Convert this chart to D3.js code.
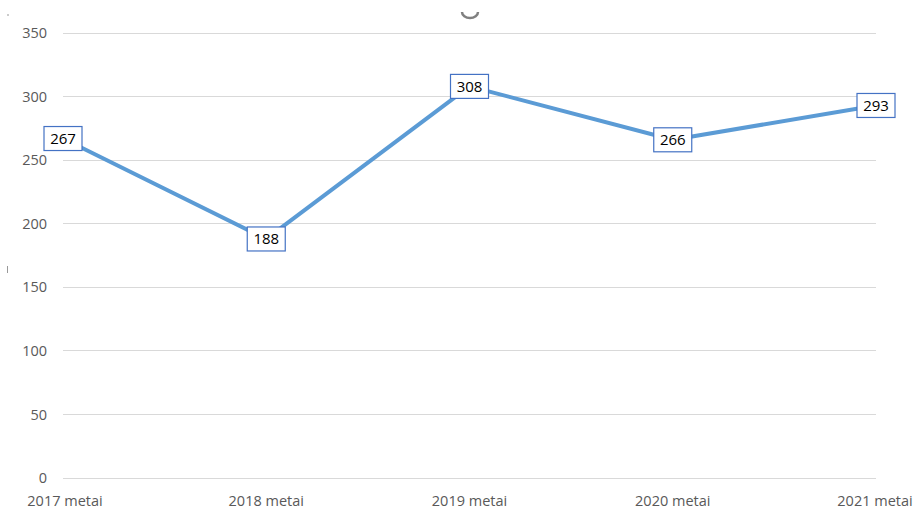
<!DOCTYPE html>
<html><head><meta charset="utf-8">
<script src="https://cdn.jsdelivr.net/npm/d3@7"></script>
<style>body{margin:0;background:#fff}svg{display:block}</style>
</head><body>
<script>
const categories = ["2017 metai","2018 metai","2019 metai","2020 metai","2021 metai"];
const values = [267,188,308,266,293];
const yTicks = [0,50,100,150,200,250,300,350];

const W=924,H=511;
const svg=d3.select("body").append("svg").attr("width",W).attr("height",H);
const x=d3.scalePoint().domain(categories).range([63,876]).padding(0);
const y=d3.scaleLinear().domain([0,350]).range([478,33]);
const font="'Open Sans', 'Liberation Sans', Arial, sans-serif";

// gridlines
svg.append("g").selectAll("line").data(yTicks).join("line")
  .attr("x1",63).attr("x2",876).attr("y1",d=>y(d)).attr("y2",d=>y(d))
  .attr("stroke","#d9d9d9").attr("stroke-width",1).attr("shape-rendering","crispEdges");

// y labels
svg.append("g").selectAll("text").data(yTicks).join("text")
  .attr("x",47).attr("y",d=>y(d)).attr("dy","0.35em").attr("text-anchor","end")
  .attr("font-family",font).attr("font-size",14.5).attr("fill","#595959").text(d=>d);

// x labels
svg.append("g").selectAll("text").data(categories).join("text")
  .attr("x",(d,i)=>i===0?65:(i===categories.length-1?875:x(d))).attr("y",506)
  .attr("text-anchor","middle")
  .attr("font-family",font).attr("font-size",14.5).attr("fill","#595959").text(d=>d);

// line
const line=d3.line().x((d,i)=>x(categories[i])).y(d=>y(d));
svg.append("path").datum(values).attr("d",line).attr("fill","none")
  .attr("stroke","#5B9BD5").attr("stroke-width",4).attr("stroke-linejoin","round");

// labels
const lg=svg.append("g").selectAll("g").data(values).join("g")
  .attr("transform",(d,i)=>`translate(${x(categories[i])},${y(d)})`);
lg.append("rect").attr("x",-19).attr("y",-12).attr("width",38).attr("height",24)
  .attr("fill","#fff").attr("stroke","#4472C4").attr("stroke-width",1.2);
lg.append("text").attr("text-anchor","middle").attr("dy","0.36em")
  .attr("font-family",font).attr("font-size",15).attr("fill","#000").text(d=>d);

// small artifacts
svg.append("path").attr("d","M462,12 A8,6 0 0 0 478,12").attr("fill","none")
  .attr("stroke","#808080").attr("stroke-width",2.5);
svg.append("line").attr("x1",8).attr("x2",8).attr("y1",14).attr("y2",16).attr("stroke","#999");
svg.append("line").attr("x1",7.5).attr("x2",7.5).attr("y1",266).attr("y2",273).attr("stroke","#999");
</script>
</body></html>
